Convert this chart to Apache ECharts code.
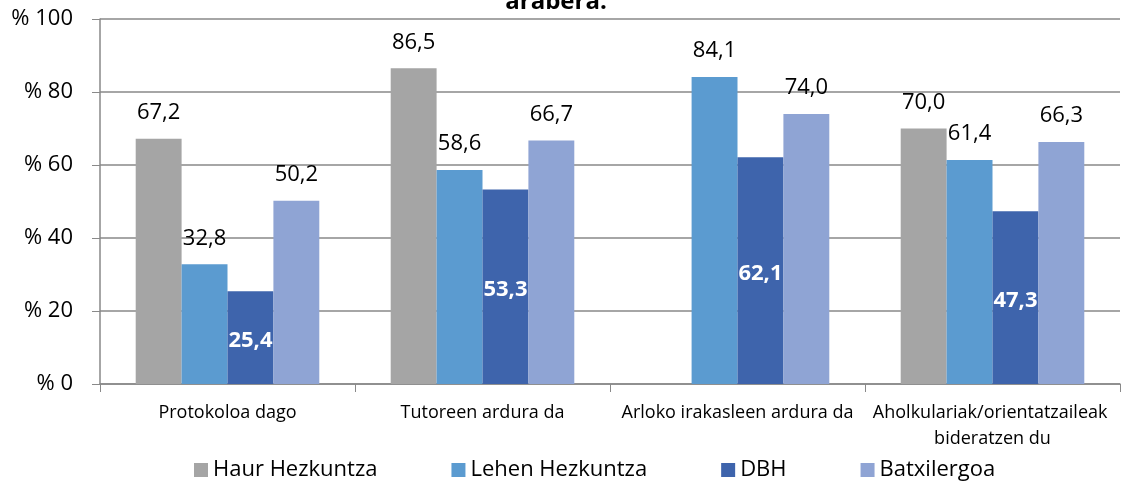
<!DOCTYPE html>
<html>
<head>
<meta charset="utf-8">
<script src="https://cdn.jsdelivr.net/npm/echarts@6/dist/echarts.min.js"></script>
<style>
  html, body { margin: 0; padding: 0; background: #fff; }
  #chart { width: 1126px; height: 488px; }
</style>
</head>
<body>
<div id="chart"></div>
<script>
// data
const categories = ['Protokoloa dago', 'Tutoreen ardura da', 'Arloko irakasleen ardura da', 'Aholkulariak/orientatzaileak bideratzen du']
const haurHezkuntza = [67.2, 86.5, null, 70.0]
const lehenHezkuntza = [32.8, 58.6, 84.1, 61.4]
const dbh = [25.4, 53.3, 62.1, 47.3]
const batxilergoa = [50.2, 66.7, 74.0, 66.3]
const yTicks = [0, 20, 40, 60, 80, 100]

const font = 'Open Sans'
const fmt = v => v.value == null ? '' : v.value.toFixed(1).replace('.', ',')

function makeSeries(name, data, color, inside) {
  return {
    name: name,
    type: 'bar',
    data: data,
    barGap: '0%',
    barCategoryGap: '28%',
    itemStyle: { color: color },
    label: inside ? {
      show: true,
      position: 'inside',
      offset: [0, 3],
      color: '#fff',
      fontWeight: 'bold',
      fontSize: 22,
      fontFamily: font,
      formatter: fmt
    } : {
      show: true,
      position: 'top',
      distance: 15,
      color: '#000',
      fontSize: 22,
      fontFamily: font,
      formatter: fmt
    }
  }
}

const chart = echarts.init(document.getElementById('chart'))
chart.setOption({
  animation: false,
  title: {
    text: 'arabera.',
    left: 551,
    textAlign: 'center',
    top: -15,
    textStyle: { fontSize: 24, fontWeight: 'bold', fontFamily: font, color: '#000' }
  },
  grid: { left: 100, right: 6, top: 19, bottom: 104 },
  legend: {
    left: 189,
    top: 454,
    itemWidth: 14,
    itemHeight: 14,
    itemGap: 74,
    icon: 'rect',
    textStyle: { fontSize: 22, fontFamily: font, color: '#000' },
    data: ['Haur Hezkuntza', 'Lehen Hezkuntza', 'DBH', 'Batxilergoa']
  },
  xAxis: {
    type: 'category',
    data: categories,
    axisLine: { lineStyle: { color: '#898989', width: 1.5 } },
    axisTick: { show: true, length: 8, lineStyle: { color: '#898989' } },
    axisLabel: {
      interval: 0,
      margin: 16,
      fontSize: 18,
      fontFamily: font,
      color: '#000',
      width: 258,
      overflow: 'break',
      lineHeight: 26
    }
  },
  yAxis: {
    type: 'value',
    min: yTicks[0],
    max: yTicks[yTicks.length - 1],
    interval: 20,
    axisLine: { show: true, lineStyle: { color: '#898989', width: 1.5 } },
    axisTick: { show: true, length: 8, lineStyle: { color: '#898989' } },
    splitLine: { show: true, lineStyle: { color: '#898989', width: 1.5 } },
    axisLabel: {
      margin: 27,
      fontSize: 22,
      fontFamily: font,
      color: '#000',
      formatter: v => '% ' + v
    }
  },
  series: [
    makeSeries('Haur Hezkuntza', haurHezkuntza, '#a5a5a5', false),
    makeSeries('Lehen Hezkuntza', lehenHezkuntza, '#5b9bd0', false),
    makeSeries('DBH', dbh, '#3e64ac', true),
    makeSeries('Batxilergoa', batxilergoa, '#8fa4d4', false)
  ]
})
</script>
</body>
</html>
